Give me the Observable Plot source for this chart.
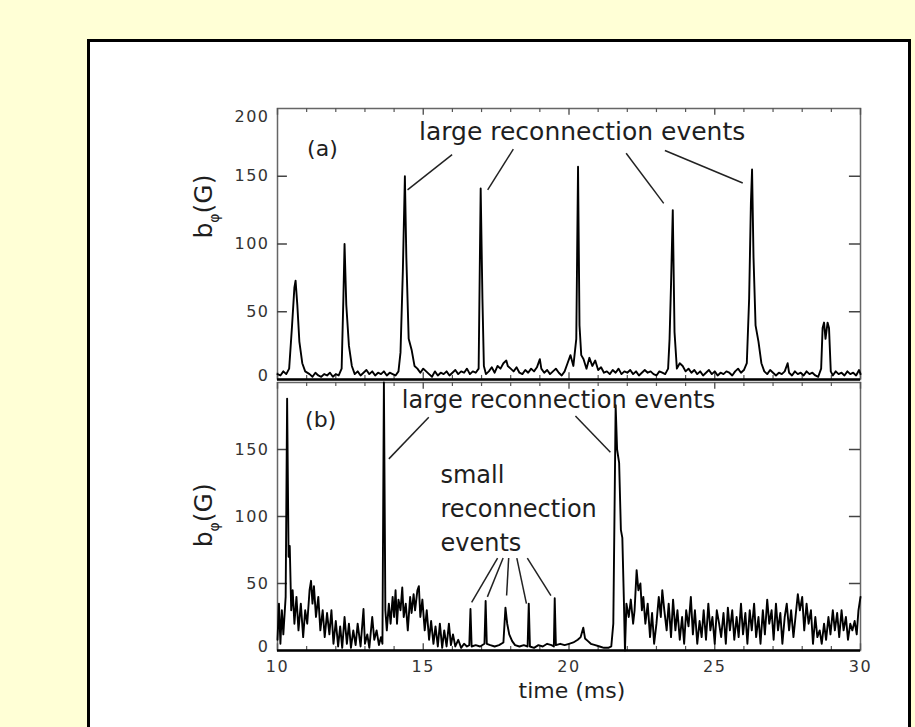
<!DOCTYPE html>
<html><head><meta charset="utf-8">
<script src="https://cdn.jsdelivr.net/npm/d3@7"></script>
<script src="https://cdn.jsdelivr.net/npm/@observablehq/plot@0.6"></script>
<style>
body{margin:0;background:#FFFFD6;width:915px;height:727px;overflow:hidden;position:relative;font-family:"DejaVu Sans",sans-serif}
#box{position:absolute;left:87px;top:39px;width:824px;height:700px;border:3px solid #000;background:#fff;box-sizing:border-box}
.panel{position:absolute;left:0}
</style></head><body>
<div id="box"></div>
<div id="pa" class="panel" style="top:0"></div>
<div id="pb" class="panel" style="top:380px"></div>
<script>
// ---- Panel (a) series: time (ms) and b_phi (G)
const timeA = [10.0,10.1,10.2,10.3,10.4,10.5,10.58,10.62,10.68,10.75,10.85,10.95,11.1,11.2,11.3,11.4,11.5,11.6,11.7,11.8,11.9,
12.0,12.1,12.2,12.26,12.3,12.36,12.45,12.55,12.65,12.75,12.85,12.95,13.05,13.15,13.25,13.35,13.45,13.55,13.65,13.75,13.85,13.95,
14.05,14.15,14.22,14.3,14.37,14.42,14.5,14.6,14.7,14.8,14.9,15.0,15.1,15.2,15.3,15.4,15.5,15.6,15.7,15.8,15.9,
16.0,16.1,16.2,16.3,16.4,16.5,16.6,16.7,16.8,16.9,16.97,17.03,17.08,17.15,17.25,17.35,17.45,17.55,17.65,17.75,17.85,17.9,
18.0,18.1,18.2,18.3,18.4,18.5,18.6,18.7,18.8,18.9,19.0,19.05,19.15,19.25,19.35,19.45,19.55,19.65,19.75,19.85,19.95,
20.05,20.15,20.25,20.31,20.36,20.42,20.5,20.6,20.7,20.8,20.9,21.0,21.1,21.2,21.3,21.4,21.5,21.6,21.7,21.8,21.9,
22.0,22.1,22.2,22.3,22.4,22.5,22.6,22.7,22.8,22.9,23.0,23.1,23.2,23.3,23.4,23.45,23.5,23.56,23.62,23.7,23.8,23.9,
24.0,24.1,24.2,24.3,24.4,24.5,24.6,24.7,24.8,24.9,25.0,25.1,25.2,25.3,25.4,25.5,25.6,25.7,25.8,25.9,
26.0,26.1,26.18,26.24,26.28,26.33,26.4,26.5,26.6,26.7,26.8,26.9,27.0,27.1,27.2,27.3,27.4,27.5,27.55,27.65,27.75,27.85,27.95,
28.05,28.15,28.25,28.35,28.45,28.55,28.65,28.7,28.75,28.8,28.87,28.92,28.98,29.05,29.15,29.25,29.35,29.45,29.55,29.65,29.75,29.85,29.95,30.0];
const bphiA = [4,3,6,4,8,40,68,73,55,28,12,6,4,2,5,3,2,4,3,5,2,
4,3,8,60,100,55,25,10,4,6,3,5,7,4,6,3,5,4,6,3,5,4,
3,6,20,80,150,90,30,22,10,8,5,8,6,4,2,6,3,5,4,6,3,
5,7,4,6,5,8,4,6,5,8,141,60,10,4,6,9,5,10,8,12,14,10,
8,6,9,5,4,7,5,8,6,9,15,8,5,7,4,6,8,5,3,6,12,
18,10,30,157,40,18,15,8,16,10,14,7,9,5,6,4,7,5,8,4,6,
5,7,4,6,3,5,7,5,6,4,3,6,5,4,8,30,70,125,35,8,12,10,
6,8,5,7,4,6,3,5,7,4,6,3,5,4,6,5,3,6,8,5,
7,12,60,130,155,90,40,28,12,6,4,7,5,3,5,4,6,12,5,3,6,4,5,
3,6,4,5,3,2,8,38,42,30,42,38,6,3,6,4,5,3,6,4,5,3,7,4];

// ---- Panel (b) series
const timeB = [10.0,10.05,10.1,10.15,10.2,10.28,10.33,10.38,10.42,10.47,10.52,10.58,10.65,10.72,10.8,10.88,10.95,
11.02,11.1,11.15,11.2,11.25,11.32,11.4,11.47,11.55,11.62,11.7,11.78,11.85,11.92,
12.0,12.08,12.15,12.22,12.3,12.38,12.45,12.52,12.6,12.68,12.75,12.85,12.95,13.0,13.08,13.15,13.25,13.32,13.4,13.48,13.55,13.6,13.65,13.7,13.75,13.82,13.88,13.95,
14.0,14.05,14.1,14.15,14.22,14.28,14.33,14.4,14.47,14.55,14.6,14.67,14.72,14.8,14.85,14.9,14.97,
15.05,15.12,15.2,15.27,15.35,15.42,15.5,15.57,15.65,15.72,15.8,15.88,15.95,
16.02,16.1,16.2,16.3,16.4,16.5,16.58,16.62,16.66,16.8,16.95,17.1,17.14,17.18,17.3,17.45,17.6,17.75,17.82,17.88,17.95,
18.05,18.15,18.3,18.45,18.58,18.62,18.66,18.8,18.95,19.1,19.25,19.4,19.48,19.51,19.55,19.7,19.85,
20.0,20.15,20.3,20.4,20.49,20.55,20.65,20.75,20.9,21.05,21.2,21.35,21.45,21.52,21.57,21.6,21.65,21.72,21.78,21.83,21.88,21.92,21.97,
22.05,22.12,22.2,22.25,22.32,22.38,22.45,22.5,22.55,22.62,22.7,22.78,22.85,22.92,
23.0,23.08,23.15,23.2,23.27,23.35,23.42,23.5,23.57,23.65,23.72,23.8,23.88,23.95,
24.02,24.1,24.18,24.25,24.32,24.4,24.48,24.55,24.62,24.7,24.78,24.85,24.92,
25.0,25.07,25.15,25.22,25.3,25.38,25.45,25.52,25.6,25.67,25.75,25.82,25.9,25.97,
26.05,26.12,26.2,26.27,26.35,26.42,26.5,26.57,26.65,26.72,26.8,26.87,26.95,
27.02,27.1,27.17,27.25,27.32,27.4,27.47,27.55,27.62,27.7,27.77,27.85,27.92,
28.0,28.07,28.15,28.22,28.3,28.37,28.45,28.52,28.6,28.67,28.75,28.82,28.9,28.97,
29.05,29.12,29.2,29.27,29.35,29.42,29.5,29.57,29.65,29.72,29.8,29.87,29.93,30.0];
const bphiB = [8,35,5,30,12,40,188,70,78,30,45,20,40,15,35,10,30,
20,45,52,35,48,25,40,15,30,10,28,12,30,5,
22,3,18,2,25,5,20,2,15,4,20,3,31,5,12,2,25,8,15,4,10,5,200,30,15,35,20,40,
25,45,20,38,30,47,25,35,15,40,28,42,30,45,48,25,38,
15,30,8,22,5,18,3,20,2,15,3,20,4,
12,3,8,2,5,3,4,31,3,4,3,5,37,5,4,3,4,6,32,20,12,
7,4,3,4,3,35,3,2,4,3,5,4,3,39,4,5,4,
5,6,8,10,17,9,7,5,4,3,2,2,3,20,120,183,150,140,90,84,40,0,35,
25,38,20,30,60,45,50,30,40,20,35,10,28,5,
20,40,25,45,30,15,35,10,38,15,30,8,25,5,
30,18,40,12,30,5,22,10,30,8,35,15,25,
5,30,20,10,28,5,32,15,30,8,25,10,35,12,
28,5,30,15,35,10,25,5,30,12,38,20,30,
8,35,15,28,5,25,35,15,30,10,25,42,30,
40,15,35,20,30,5,25,10,15,5,20,8,25,12,
30,15,28,10,30,15,25,8,20,15,22,12,30,40];

// ---- Axes
const xDomain = [10, 30];
const yDomain = [0, 200];
const xMajorTicks = [10, 15, 20, 25, 30];
const xMinorTicks = [11,12,13,14,16,17,18,19,21,22,23,24,26,27,28,29];
const yTicks = [50, 100, 150];
const yTickLabelsA = [0, 50, 100, 150, 200];
const yTickLabelsB = [0, 50, 100, 150];
const yAxisLabel = "bφ(G)";
const xAxisLabel = "time (ms)";

// ---- Annotations (data coordinates)
const tagA = [{t: 11.54, v: 170, label: "(a)"}];
const tagB = [{t: 11.48, v: 172, label: "(b)"}];
const notesA = [{t: 20.45, v: 177, label: "large reconnection events"}];
const notesB = [{t: 19.64, v: 181, label: "large reconnection events"}];
const notesSmall = [{t: 15.59, v: 74.6, label: "small\nreconnection\nevents"}];
const leadersA = [
  {t1: 15.99, v1: 166, t2: 14.46, v2: 140},
  {t1: 18.09, v1: 170, t2: 17.21, v2: 140},
  {t1: 21.96, v1: 167, t2: 23.25, v2: 130},
  {t1: 23.29, v1: 169, t2: 25.96, v2: 145}
];
const leadersB = [
  {t1: 15.19, v1: 174, t2: 13.82, v2: 143},
  {t1: 20.22, v1: 175, t2: 21.42, v2: 148},
  {t1: 17.55, v1: 69, t2: 16.66, v2: 36},
  {t1: 17.74, v1: 69, t2: 17.2, v2: 40},
  {t1: 17.93, v1: 69, t2: 17.86, v2: 41},
  {t1: 18.21, v1: 69, t2: 18.54, v2: 35},
  {t1: 18.57, v1: 69, t2: 19.38, v2: 41}
];

const FONT = "DejaVu Sans";
const TXT = "#1e1e1e";

function panel({time, bphi, height, mt, mb, labels, tag, notes, leaders, noteSize, ylabV, xaxis, extra}) {
  const data = time.map((t, i) => ({t, v: bphi[i]}));
  const marks = [
    Plot.frame({stroke: "#666", strokeWidth: 1.5}),
    Plot.ruleX(xMinorTicks, {x: d => d, y1: 200, y2: 197, stroke: "#555", strokeWidth: 1.2}),
    Plot.ruleX(xMajorTicks, {x: d => d, y1: 200, y2: 195, stroke: "#555", strokeWidth: 1.4}),
    Plot.ruleX(xMinorTicks, {x: d => d, y1: 0, y2: 3, stroke: "#555", strokeWidth: 1.2}),
    Plot.ruleX(xMajorTicks, {x: d => d, y1: 0, y2: 5, stroke: "#555", strokeWidth: 1.4}),
    Plot.ruleY(yTicks, {y: d => d, x1: 10, x2: 10.34, stroke: "#444", strokeWidth: 1.5}),
    Plot.ruleY(yTicks, {y: d => d, x1: 29.62, x2: 30, stroke: "#444", strokeWidth: 1.5}),
    Plot.line(data, {x: "t", y: "v", stroke: "#000", strokeWidth: 1.9}),
    Plot.ruleY([0], {stroke: "#000", strokeWidth: 2.5}),
    Plot.text(labels.filter(d => d > 0 && d < 200), {y: d => d, text: d => String(d), frameAnchor: "left", dx: -8, textAnchor: "end", fontSize: 16, fill: "#333"}),
    Plot.text(labels.filter(d => d === 0), {y: d => d, text: d => String(d), frameAnchor: "left", dx: -8, dy: -4, textAnchor: "end", fontSize: 16, fill: "#333"}),
    Plot.text(labels.filter(d => d === 200), {y: d => d, text: d => String(d), frameAnchor: "left", dx: -8, dy: 8, textAnchor: "end", fontSize: 16, fill: "#333"}),
    Plot.text([{lab: yAxisLabel, v: ylabV}], {y: "v", text: "lab", frameAnchor: "left", dx: -74, rotate: -90, fontSize: 25, fill: TXT}),
    Plot.text(tag, {x: "t", y: "v", text: "label", fontSize: 22, fill: TXT}),
    Plot.text(notes, {x: "t", y: "v", text: "label", lineAnchor: "bottom", fontSize: noteSize, fill: TXT}),
    Plot.link(leaders, {x1: "t1", y1: "v1", x2: "t2", y2: "v2", stroke: "#222", strokeWidth: 1.5})
  ];
  if (extra) marks.push(...extra);
  if (xaxis) {
    marks.push(Plot.text(xMajorTicks, {x: d => d, text: d => String(d), frameAnchor: "bottom", dy: 21, fontSize: 16, fill: "#333"}));
    marks.push(Plot.text([{lab: xAxisLabel, t: 20.1}], {x: "t", text: "lab", frameAnchor: "bottom", dy: 47, fontSize: 22, fill: TXT}));
  }
  const svg = Plot.plot({
    width: 915, height,
    marginLeft: 277, marginRight: 55, marginTop: mt, marginBottom: mb,
    x: {domain: xDomain, axis: null},
    y: {domain: yDomain, axis: null},
    style: {background: "transparent", overflow: "visible", fontFamily: FONT},
    marks
  });
  const ns = "http://www.w3.org/2000/svg";
  svg.querySelectorAll("text").forEach(el => {
    const s = el.textContent;
    if (/^\d+$/.test(s)) {
      el.setAttribute("letter-spacing", "1.5");
    } else if (s === yAxisLabel) {
      el.textContent = "";
      const b = document.createElementNS(ns, "tspan"); b.textContent = "b";
      const p = document.createElementNS(ns, "tspan"); p.textContent = "φ"; p.setAttribute("font-size", "14"); p.setAttribute("dy", "7");
      const g = document.createElementNS(ns, "tspan"); g.textContent = "(G)"; g.setAttribute("dy", "-7");
      el.append(b, p, g);
    }
  });
  return svg;
}

document.getElementById("pa").append(panel({
  time: timeA, bphi: bphiA, height: 382, mt: 108, mb: 3,
  labels: yTickLabelsA, tag: tagA, notes: notesA, leaders: leadersA, noteSize: 25, ylabV: 104, xaxis: false
}));
document.getElementById("pb").append(panel({
  time: timeB, bphi: bphiB, height: 347, mt: 2, mb: 77,
  labels: yTickLabelsB, tag: tagB, notes: notesB, leaders: leadersB, noteSize: 24, ylabV: 77, xaxis: true,
  extra: [Plot.text(notesSmall, {x: "t", y: "v", text: "label", textAnchor: "start", lineAnchor: "bottom", lineHeight: 1.4, fontSize: 24, fill: TXT})]
}));
</script>
</body></html>
